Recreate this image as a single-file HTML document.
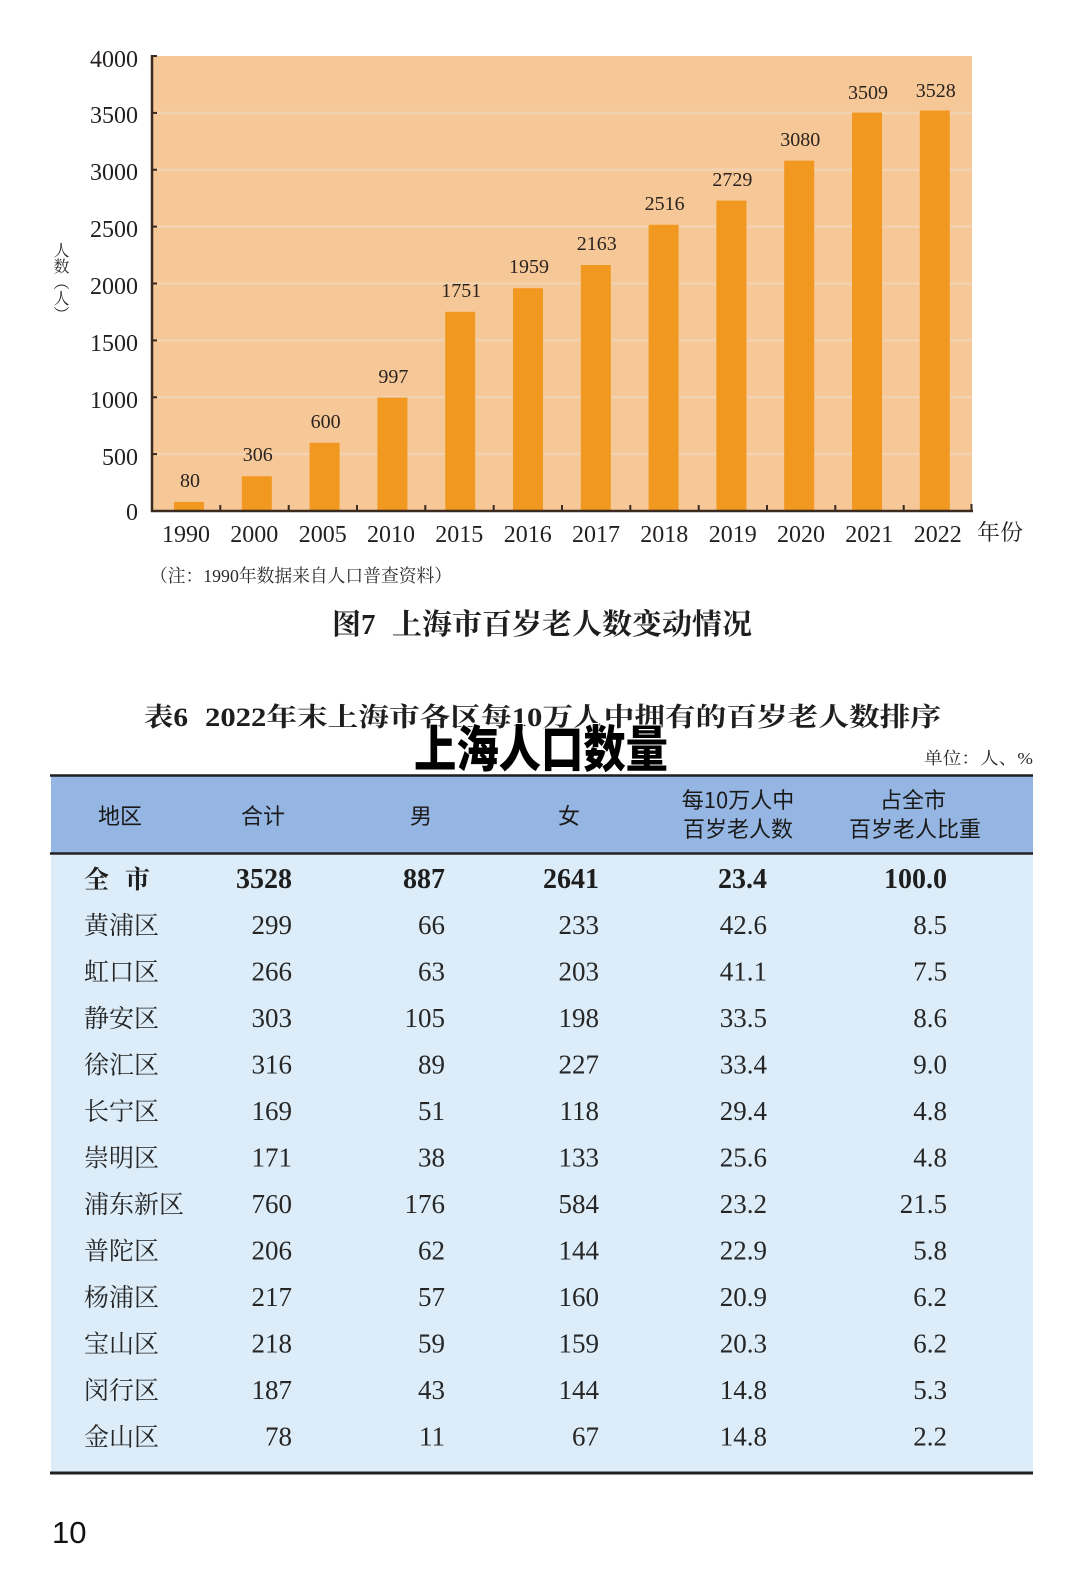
<!DOCTYPE html>
<html>
<head>
<meta charset="utf-8">
<style>
  html,body{margin:0;padding:0;background:#ffffff;}
  body{width:1080px;height:1576px;position:relative;overflow:hidden;}
  svg{position:absolute;left:0;top:0;}
  .ylab{position:absolute;left:51px;top:242px;writing-mode:vertical-rl;font-family:"Liberation Serif","Noto Serif CJK SC",serif;font-size:16px;line-height:17px;color:#2a2a2a;letter-spacing:0px;}
</style>
</head>
<body>
<svg width="1080" height="1576" viewBox="0 0 1080 1576" xmlns="http://www.w3.org/2000/svg">
  <rect x="152" y="56" width="820" height="455" fill="#f7c897"/>
  <g stroke="#f2d2b0" stroke-width="2.5">
    <line x1="154" x2="972" y1="454.1" y2="454.1"/>
    <line x1="154" x2="972" y1="397.25" y2="397.25"/>
    <line x1="154" x2="972" y1="340.4" y2="340.4"/>
    <line x1="154" x2="972" y1="283.5" y2="283.5"/>
    <line x1="154" x2="972" y1="226.6" y2="226.6"/>
    <line x1="154" x2="972" y1="169.75" y2="169.75"/>
    <line x1="154" x2="972" y1="112.9" y2="112.9"/>
  </g>
  <g fill="#f0981f">
    <rect x="174" y="501.9" width="30" height="9.1"/>
    <rect x="241.8" y="476.2" width="30" height="34.8"/>
    <rect x="309.6" y="442.75" width="30" height="68.25"/>
    <rect x="377.4" y="397.6" width="30" height="113.4"/>
    <rect x="445.2" y="311.8" width="30" height="199.2"/>
    <rect x="513" y="288.2" width="30" height="222.8"/>
    <rect x="580.8" y="265" width="30" height="246"/>
    <rect x="648.6" y="224.8" width="30" height="286.2"/>
    <rect x="716.4" y="200.6" width="30" height="310.4"/>
    <rect x="784.2" y="160.65" width="30" height="350.35"/>
    <rect x="852" y="112.5" width="30" height="398.5"/>
    <rect x="919.8" y="110.5" width="30" height="400.5"/>
  </g>
  <g font-family="Liberation Serif, serif" font-size="20" fill="#2a2320" text-anchor="middle">
    <text x="190" y="487">80</text>
    <text x="257.8" y="461">306</text>
    <text x="325.6" y="428">600</text>
    <text x="393.4" y="383">997</text>
    <text x="461.2" y="297">1751</text>
    <text x="529" y="273">1959</text>
    <text x="596.8" y="250">2163</text>
    <text x="664.6" y="210">2516</text>
    <text x="732.4" y="186">2729</text>
    <text x="800.2" y="146">3080</text>
    <text x="868" y="99">3509</text>
    <text x="935.8" y="97">3528</text>
  </g>
  <g stroke="#3a2a1f" stroke-width="2.5" fill="none">
    <line x1="152" y1="55" x2="152" y2="512"/>
    <line x1="151" y1="511" x2="973" y2="511"/>
  </g>
  <g stroke="#3a2a1f" stroke-width="2">
    <line x1="152" x2="157" y1="56" y2="56"/>
    <line x1="152" x2="157" y1="112.9" y2="112.9"/>
    <line x1="152" x2="157" y1="169.75" y2="169.75"/>
    <line x1="152" x2="157" y1="226.6" y2="226.6"/>
    <line x1="152" x2="157" y1="283.5" y2="283.5"/>
    <line x1="152" x2="157" y1="340.4" y2="340.4"/>
    <line x1="152" x2="157" y1="397.25" y2="397.25"/>
    <line x1="152" x2="157" y1="454.1" y2="454.1"/>
    <line x1="220.3" x2="220.3" y1="505" y2="511"/>
    <line x1="288.7" x2="288.7" y1="505" y2="511"/>
    <line x1="357" x2="357" y1="505" y2="511"/>
    <line x1="425.3" x2="425.3" y1="505" y2="511"/>
    <line x1="493.7" x2="493.7" y1="505" y2="511"/>
    <line x1="562" x2="562" y1="505" y2="511"/>
    <line x1="630.3" x2="630.3" y1="505" y2="511"/>
    <line x1="698.7" x2="698.7" y1="505" y2="511"/>
    <line x1="767" x2="767" y1="505" y2="511"/>
    <line x1="835.3" x2="835.3" y1="505" y2="511"/>
    <line x1="903.7" x2="903.7" y1="505" y2="511"/>
    <line x1="971.5" x2="971.5" y1="504" y2="511"/>
  </g>
  <g font-family="Liberation Serif, serif" font-size="24" fill="#231f20" text-anchor="end">
    <text x="138" y="67">4000</text>
    <text x="138" y="123">3500</text>
    <text x="138" y="180">3000</text>
    <text x="138" y="237">2500</text>
    <text x="138" y="294">2000</text>
    <text x="138" y="351">1500</text>
    <text x="138" y="408">1000</text>
    <text x="138" y="465">500</text>
    <text x="138" y="520">0</text>
  </g>
  <g font-family="Liberation Serif, serif" font-size="24" fill="#231f20" text-anchor="middle">
    <text x="186" y="542">1990</text>
    <text x="254.3" y="542">2000</text>
    <text x="322.7" y="542">2005</text>
    <text x="391" y="542">2010</text>
    <text x="459.3" y="542">2015</text>
    <text x="527.7" y="542">2016</text>
    <text x="596" y="542">2017</text>
    <text x="664.3" y="542">2018</text>
    <text x="732.7" y="542">2019</text>
    <text x="801" y="542">2020</text>
    <text x="869.3" y="542">2021</text>
    <text x="937.7" y="542">2022</text>
  </g>
  <text x="977" y="540" font-family="Liberation Serif, 'Noto Serif CJK SC', serif" font-size="22" fill="#231f20" textLength="46" lengthAdjust="spacingAndGlyphs">年份</text>
  <text x="150" y="582" font-family="Liberation Serif, 'Noto Serif CJK SC', serif" font-size="18" fill="#2a2a2a" textLength="302" lengthAdjust="spacingAndGlyphs">（注：1990年数据来自人口普查资料）</text>
  <text y="634" font-family="Liberation Serif, 'Noto Serif CJK SC', serif" font-size="29" font-weight="bold" fill="#1e1e1e"><tspan x="332">图7</tspan><tspan x="392" textLength="360" lengthAdjust="spacingAndGlyphs">上海市百岁老人数变动情况</tspan></text>

  <text y="726" font-family="Liberation Serif, 'Noto Serif CJK SC', serif" font-size="26" font-weight="bold" fill="#1e1e1e"><tspan x="144" textLength="44" lengthAdjust="spacingAndGlyphs">表6</tspan><tspan x="205" textLength="736" lengthAdjust="spacingAndGlyphs">2022年末上海市各区每10万人中拥有的百岁老人数排序</tspan></text>
  <text x="414" y="767" font-family="'Noto Sans CJK SC', 'WenQuanYi Zen Hei', sans-serif" font-size="50" font-weight="900" fill="#000" stroke="#ffffff" stroke-width="2" paint-order="stroke" textLength="254" lengthAdjust="spacingAndGlyphs">上海人口数量</text>
  <text x="924" y="764" font-family="Liberation Serif, 'Noto Serif CJK SC', serif" font-size="17" fill="#2a2a2a" textLength="109" lengthAdjust="spacingAndGlyphs">单位：人、%</text>

  <rect x="51" y="776" width="982" height="77" fill="#95b6e2"/>
  <rect x="51" y="855" width="982" height="617" fill="#dcedf9"/>
  <g stroke="#1f1f24">
    <line x1="50" x2="1033" y1="775.5" y2="775.5" stroke-width="2.5"/>
    <line x1="50" x2="1033" y1="853.5" y2="853.5" stroke-width="2.5"/>
    <line x1="50" x2="1033" y1="1473" y2="1473" stroke-width="3"/>
  </g>
  <g font-family="'Noto Sans CJK SC', 'Liberation Sans', sans-serif" font-size="22" fill="#1a1a1a" text-anchor="middle">
    <text x="120" y="824">地区</text>
    <text x="263" y="824">合计</text>
    <text x="421" y="824">男</text>
    <text x="569" y="824">女</text>
    <text x="738" y="808">每10万人中</text>
    <text x="738" y="837">百岁老人数</text>
    <text x="913" y="808">占全市</text>
    <text x="915" y="837">百岁老人比重</text>
  </g>
  <g font-family="Liberation Serif, 'Noto Serif CJK SC', serif" font-weight="bold" fill="#1e1e1e">
    <text x="84" y="888" font-size="25">全</text>
    <text x="125" y="888" font-size="25">市</text>
  </g>
  <g font-family="Liberation Serif, serif" font-weight="bold" font-size="28" fill="#1e1e1e" text-anchor="end">
    <text x="292" y="888">3528</text>
    <text x="445" y="888">887</text>
    <text x="599" y="888">2641</text>
    <text x="767" y="888">23.4</text>
    <text x="947" y="888">100.0</text>
  </g>
  <g font-family="'Noto Serif CJK SC', 'Liberation Serif', serif" font-size="25" fill="#262626">
    <text x="84" y="934">黄浦区</text>
    <text x="84" y="980.5">虹口区</text>
    <text x="84" y="1027">静安区</text>
    <text x="84" y="1073.5">徐汇区</text>
    <text x="84" y="1120">长宁区</text>
    <text x="84" y="1166.5">崇明区</text>
    <text x="84" y="1213">浦东新区</text>
    <text x="84" y="1259.5">普陀区</text>
    <text x="84" y="1306">杨浦区</text>
    <text x="84" y="1352.5">宝山区</text>
    <text x="84" y="1399">闵行区</text>
    <text x="84" y="1445.5">金山区</text>
  </g>
  <g font-family="Liberation Serif, serif" font-size="27" fill="#262626" text-anchor="end">
    <text x="292" y="934">299</text><text x="445" y="934">66</text><text x="599" y="934">233</text><text x="767" y="934">42.6</text><text x="947" y="934">8.5</text>
    <text x="292" y="980.5">266</text><text x="445" y="980.5">63</text><text x="599" y="980.5">203</text><text x="767" y="980.5">41.1</text><text x="947" y="980.5">7.5</text>
    <text x="292" y="1027">303</text><text x="445" y="1027">105</text><text x="599" y="1027">198</text><text x="767" y="1027">33.5</text><text x="947" y="1027">8.6</text>
    <text x="292" y="1073.5">316</text><text x="445" y="1073.5">89</text><text x="599" y="1073.5">227</text><text x="767" y="1073.5">33.4</text><text x="947" y="1073.5">9.0</text>
    <text x="292" y="1120">169</text><text x="445" y="1120">51</text><text x="599" y="1120">118</text><text x="767" y="1120">29.4</text><text x="947" y="1120">4.8</text>
    <text x="292" y="1166.5">171</text><text x="445" y="1166.5">38</text><text x="599" y="1166.5">133</text><text x="767" y="1166.5">25.6</text><text x="947" y="1166.5">4.8</text>
    <text x="292" y="1213">760</text><text x="445" y="1213">176</text><text x="599" y="1213">584</text><text x="767" y="1213">23.2</text><text x="947" y="1213">21.5</text>
    <text x="292" y="1259.5">206</text><text x="445" y="1259.5">62</text><text x="599" y="1259.5">144</text><text x="767" y="1259.5">22.9</text><text x="947" y="1259.5">5.8</text>
    <text x="292" y="1306">217</text><text x="445" y="1306">57</text><text x="599" y="1306">160</text><text x="767" y="1306">20.9</text><text x="947" y="1306">6.2</text>
    <text x="292" y="1352.5">218</text><text x="445" y="1352.5">59</text><text x="599" y="1352.5">159</text><text x="767" y="1352.5">20.3</text><text x="947" y="1352.5">6.2</text>
    <text x="292" y="1399">187</text><text x="445" y="1399">43</text><text x="599" y="1399">144</text><text x="767" y="1399">14.8</text><text x="947" y="1399">5.3</text>
    <text x="292" y="1445.5">78</text><text x="445" y="1445.5">11</text><text x="599" y="1445.5">67</text><text x="767" y="1445.5">14.8</text><text x="947" y="1445.5">2.2</text>
  </g>
  <text x="52" y="1543" font-family="Liberation Sans, sans-serif" font-size="31" fill="#111">10</text>
</svg>
<div class="ylab">人数（人）</div>
</body>
</html>
